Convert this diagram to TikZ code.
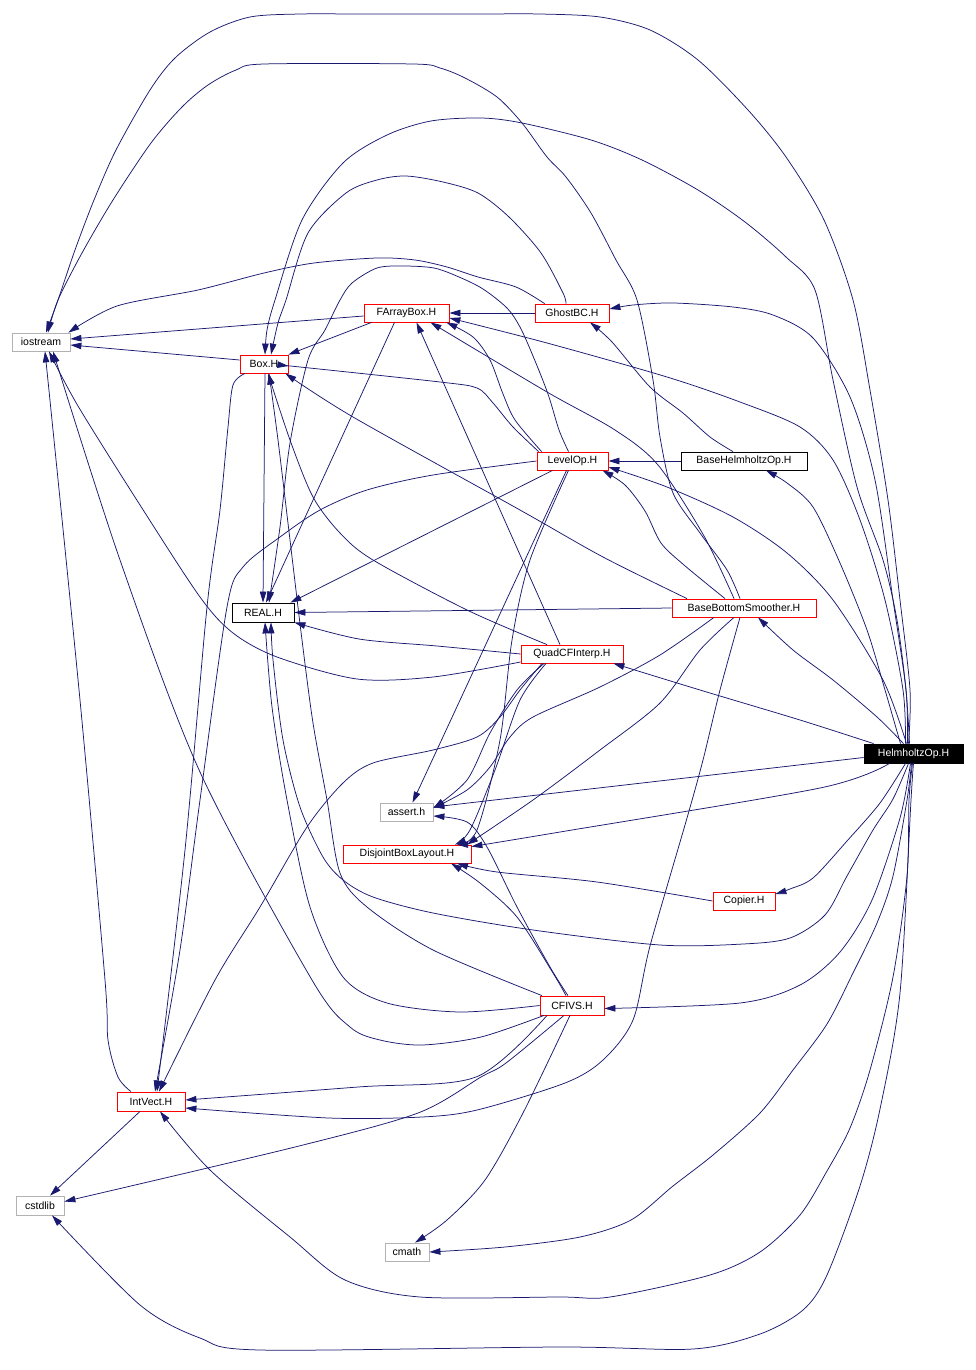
\documentclass[tikz,border=0pt]{standalone}
\usepackage{fontspec}
\setmainfont{Liberation Sans}
\usetikzlibrary{arrows.meta}
\definecolor{edgeblue}{HTML}{191970}
\begin{document}
\begin{tikzpicture}[x=1pt,y=-1pt,
  box/.style={rectangle, draw, inner sep=0pt, minimum height=18pt, line width=0.8pt, font=\fontsize{10.5}{12}\selectfont},
  graynode/.style={box, draw=black!30},
  rednode/.style={box, draw=red},
  blacknode/.style={box, draw=black},
  rootnode/.style={box, draw=black, fill=black, text=white},
  e/.style={draw=edgeblue, line width=0.75pt, -{Triangle[length=11pt,width=6.5pt]}},
  sm/.style={smooth, tension=0.5}
]
\useasboundingbox (0,0) rectangle (976,1370);
\fill[white] (0,0) rectangle (976,1370);

% nodes
\node[graynode, minimum width=58pt] (ios) at (41,342) {iostream};
\node[rednode, minimum width=48pt] (box) at (264,364) {Box.H};
\node[rednode, minimum width=85pt] (fab) at (406.5,313) {FArrayBox.H};
\node[rednode, minimum width=74pt] (gbc) at (572,313) {GhostBC.H};
\node[rednode, minimum width=71pt] (lop) at (572.5,461) {LevelOp.H};
\node[blacknode, minimum width=126pt] (bho) at (744,461) {BaseHelmholtzOp.H};
\node[blacknode, minimum width=62pt, minimum height=19pt] (real) at (263,612.5) {REAL.H};
\node[rednode, minimum width=144pt] (bbs) at (744,608) {BaseBottomSmoother.H};
\node[rednode, minimum width=102pt] (qcf) at (572,654) {QuadCFInterp.H};
\node[rootnode, minimum width=99pt, minimum height=19pt] (ho) at (913.5,753.5) {HelmholtzOp.H};
\node[graynode, minimum width=53pt] (ast) at (406.5,812) {assert.h};
\node[rednode, minimum width=128pt] (dbl) at (407,854) {DisjointBoxLayout.H};
\node[rednode, minimum width=62pt] (cop) at (744,901) {Copier.H};
\node[rednode, minimum width=64pt, minimum height=19pt] (cfivs) at (572,1005.5) {CFIVS.H};
\node[rednode, minimum width=68pt, minimum height=19pt] (ivt) at (151,1101.5) {IntVect.H};
\node[graynode, minimum width=48pt, minimum height=19pt] (csl) at (40,1205.5) {cstdlib};
\node[graynode, minimum width=44pt] (cmh) at (407,1252) {cmath};

% HelmholtzOp.H edges
\draw[e] plot[sm] coordinates {([xshift=-5pt]ho.north) (910,690) (900,600) (888,500) (870,390) (853,300) (824,220) (786,157) (748,110) (698,60) (650,30) (600,17) (540,14) (480,14) (420,14) (360,14) (300,14) (250,17) (210,32) (175,58) (150,90) (116,150) (94,200) (75,250) (58,300) ([xshift=5pt]ios.north)};
\draw[e] plot[sm] coordinates {([xshift=-6pt]ho.north) (906,690) (893,600) (875,480) (850,397) (813,338) (773,315) (733,307) (673,303) (633,305) ([yshift=4pt]gbc.east)};
\draw[e] plot[sm] coordinates {([xshift=-8pt]ho.north) (903,690) (885,600) (860,520) (833,460) (800,427) (740,402) (667,377) (547,343) ([yshift=-5pt]fab.east)};
\draw[e] plot[sm] coordinates {([xshift=-4pt]ho.north) (906,690) (897,620) (883,560) (857,487) (833,380) (815,290) (786,257) (745,222) (698,190) (642,160) (591,140) (522,123) (481,118) (431,121) (387,135) (343,163) (302,220) (275,300) (267,330) ([xshift=1pt]box.north)};
\draw[e] plot[sm] coordinates {([xshift=-7pt]ho.north) (883,680) (833,600) (787,553) (733,517) (667,487) ([yshift=-6pt]lop.east)};
\draw[e] plot[sm] coordinates {([xshift=-13pt]ho.north) (885,690) (867,630) (840,563) (813,507) (787,483) ([xshift=22pt]bho.south)};
\draw[e] plot[sm] coordinates {([xshift=-10pt]ho.north) (877,717) (833,680) (793,650) ([xshift=14pt]bbs.south)};
\draw[e] plot[sm] coordinates {([xshift=10pt]ho.north west) (800,720) (700,690) ([xshift=-10pt]qcf.south east)};
\draw[e] ([yshift=-4pt]ho.west) -- ([yshift=5pt]ast.east);
\draw[e] plot[sm] coordinates {([xshift=-24pt]ho.south) (820,788) (560,832) ([yshift=-2pt]dbl.north east)};
\draw[e] plot[sm] coordinates {([xshift=-8pt]ho.south) (880,803) (847,841) (813,878) (790,889) ([yshift=7pt]cop.east)};
\draw[e] plot[sm] coordinates {([xshift=-5pt]ho.south) (893,799) (873,830) (847,876) (825,915) (790,938) (743,944) (660,945) (533,930) (433,913) (373,897) (343,880) (323,857) (300,807) (283,740) (273,660) ([xshift=8pt]real.south)};
\draw[e] plot[sm] coordinates {([xshift=-3pt]ho.south) (900,818) (872,900) (840,952) (800,985) (740,1003) ([yshift=-3pt]cfivs.east)};
\draw[e] plot[sm] coordinates {([xshift=-2pt]ho.south) (907,800) (893,876) (877,923) (853,973) (827,1024) (793,1070) (760,1113) (713,1155) (673,1186) (631,1220) (580,1237) (505,1247) (cmh.east)};
\draw[e] plot[sm] coordinates {([xshift=-1pt]ho.south) (909,800) (907,876) (893,977) (870,1070) (850,1128) (827,1171) (800,1215) (760,1252) (710,1275) (610,1297) (560,1297) (420,1297) (345,1280) (290,1237) (210,1170) ([xshift=9pt]ivt.south)};
\draw[e] plot[sm] coordinates {(ho.south) (911,800) (900,993) (880,1109) (860,1186) (827,1275) (803,1310) (760,1334) (693,1349) (560,1347) (260,1350) (200,1338) (140,1305) ([xshift=12pt]csl.south)};

% GhostBC.H
\draw[e] (gbc.west) -- (fab.east);
\draw[e] plot[sm] coordinates {([xshift=10pt]gbc.north west) (516,287) (478,277) (447,267) (415,260) (377,258) (314,263) (264,273) (198,290) (117,306) ([xshift=-2pt]ios.north east)};
\draw[e] plot[sm] coordinates {([xshift=-6pt]gbc.north) (563,293) (541,253) (509,217) (478,193) (443,182) (406,176) (377,180) (346,193) (308,233) (286,300) (278,323) ([xshift=7pt]box.north)};

% BaseHelmholtzOp.H
\draw[e] plot[sm] coordinates {([xshift=-11pt]bho.north) (710,437) (683,413) (650,387) (612,342) ([xshift=18pt]gbc.south)};
\draw[e] (bho.west) -- (lop.east);

% LevelOp.H
\draw[e] plot[sm] coordinates {([xshift=2pt]lop.north west) (513,427) (493,403) (477,388) (440,382) (300,367) ([yshift=-2pt]box.east)};
\draw[e] plot[sm] coordinates {([xshift=5pt]lop.north west) (515,420) (503,394) (490,360) (473,337) ([xshift=-3pt]fab.south east)};
\draw[e] ([xshift=-20pt]lop.south) -- ([xshift=-4pt]real.north east);
\draw[e] plot[sm] coordinates {(lop.west) (433,475) (367,490) (320,510) (280,537) (243,567) (227,607) (200,800) (180,950) ([xshift=4pt]ivt.north)};
\draw[e] ([xshift=-6pt]lop.south) -- ([xshift=6pt]ast.north);
\draw[e] plot[sm] coordinates {([xshift=-4pt]lop.south) (530,560) (512,640) (500,740) (477,830) ([xshift=50pt]dbl.north)};
\draw[e] plot[sm] coordinates {([xshift=-4pt]lop.north) (559,430) (548,394) (533,356) (520,327) (507,308) (483,289) (459,277) (434,268) (403,266) (377,268) (352,283) (340,300) (325,330) (308,360) (290,443) (280,527) ([xshift=6pt]real.north)};

% QuadCFInterp.H
\draw[e] ([xshift=-12pt]qcf.north) -- ([xshift=10pt]fab.south);
\draw[e] plot[sm] coordinates {([xshift=-25pt]qcf.north) (467,610) (373,560) (340,533) (313,497) (290,440) ([xshift=4pt]box.south)};
\draw[e] plot[sm] coordinates {(qcf.west) (437,646) (359,639) (real.south east)};
\draw[e] plot[sm] coordinates {([yshift=-8pt]qcf.west) (433,677) (357,679) (277,657) (233,633) (200,597) (140,505) (78,406) ([xshift=8pt]ios.south)};
\draw[e] plot[sm] coordinates {([xshift=-30pt]qcf.south) (520,690) (500,717) (477,737) (433,750) (373,763) (343,783) (307,827) (260,907) (215,980) ([xshift=8pt]ivt.north)};
\draw[e] plot[sm] coordinates {([xshift=-28pt]qcf.south) (517,690) (490,733) (467,780) ([yshift=4pt]ast.east)};
\draw[e] plot[sm] coordinates {([xshift=-26pt]qcf.south) (520,700) (495,770) (470,830) ([xshift=48pt]dbl.north)};

% BaseBottomSmoother.H
\draw[e] (bbs.west) -- (real.east);
\draw[e] plot[sm] coordinates {([xshift=-57pt]bbs.north) (603,557) (520,510) (353,417) ([xshift=-3pt]box.south east)};
\draw[e] plot[sm] coordinates {([xshift=-10pt]bbs.north) (704,536) (658,465) (615,430) (547,392) ([xshift=24pt]fab.south)};
\draw[e] plot[sm] coordinates {([xshift=-4pt]bbs.north) (727,570) (700,533) (673,493) (660,437) (653,380) (637,300) (616,260) (591,213) (566,177) (547,157) (522,123) (497,97) (465,78) (440,68) (413,64) (264,64) (236,70) (208,85) (182,107) (151,143) (113,200) (82,253) (58,300) ([xshift=7pt]ios.north)};
\draw[e] plot[sm] coordinates {([xshift=-4pt]bbs.south) (720,690) (703,760) (687,818) (650,946) (633,1020) (603,1060) (565,1083) (477,1110) (422,1117) (329,1118) ([yshift=-6.5pt]ivt.east)};
\draw[e] plot[sm] coordinates {([xshift=-30pt]bbs.south) (660,655) (600,687) (533,717) (510,737) (490,767) (467,790) ([yshift=4pt]ast.east)};
\draw[e] plot[sm] coordinates {([xshift=-10pt]bbs.south) (700,650) (660,703) (600,750) (533,800) ([xshift=60pt]dbl.north)};
\draw[e] plot[sm] coordinates {([xshift=-19pt]bbs.north) (684,565) (661,543) (645,511) (625,485) ([xshift=-6pt]lop.south east)};

% Copier.H
\draw[e] plot[sm] coordinates {(cop.west) (597,882) (497,872) ([xshift=50pt]dbl.south)};

% CFIVS.H
\draw[e] plot[sm] coordinates {([xshift=-30pt]cfivs.north) (433,950) (367,907) (340,873) (327,800) (313,723) (302,640) (290,540) (278,440) ([xshift=5pt]box.south)};
\draw[e] plot[sm] coordinates {(cfivs.west) (460,1012) (387,1003) (343,977) (310,907) (287,800) (272,707) ([xshift=2pt]real.south)};
\draw[e] plot[sm] coordinates {([xshift=-28pt]cfivs.south) (481,1037) (422,1045) (380,1040) (350,1027) (312,980) (200,772) (120,560) ([xshift=12pt]ios.south)};
\draw[e] plot[sm] coordinates {([xshift=-25pt]cfivs.south) (476,1077) (358,1087) ([yshift=1.5pt]ivt.east)};
\draw[e] plot[sm] coordinates {([xshift=-6pt]cfivs.north) (553,973) (517,917) (480,883) ([xshift=44pt]dbl.south)};
\draw[e] plot[sm] coordinates {([xshift=-4pt]cfivs.north) (550,967) (517,907) (487,847) (467,822) ([yshift=-4pt]ast.east)};
\draw[e] plot[sm] coordinates {([xshift=-8pt]cfivs.south) (506,1063) (481,1077) (418,1113) (295,1147) ([yshift=4pt]csl.east)};
\draw[e] plot[sm] coordinates {([xshift=-2pt]cfivs.south) (523,1113) (485,1180) (447,1220) ([xshift=8pt]cmh.north)};

% IntVect.H
\draw[e] plot[sm] coordinates {([xshift=-20pt]ivt.north) (118,1077) (108,1040) (105,980) (80,700) ([xshift=4pt]ios.south)};
\draw[e] ([xshift=-11pt]ivt.south) -- ([xshift=10pt]csl.north);

% Box.H
\draw[e] ([yshift=4pt]box.west) -- ([yshift=-3pt]ios.east);
\draw[e] plot[sm] coordinates {([xshift=-19pt]box.south) (233,385) (228,427) (220,510) (207,607) (185,850) ([xshift=6pt]ivt.north)};
\draw[e] ([xshift=1pt]box.south) -- (real.north);

% FArrayBox.H
\draw[e] ([yshift=-3pt]fab.west) -- ([yshift=3pt]ios.east);
\draw[e] ([xshift=8pt]fab.south west) -- (box.north east);
\draw[e] ([xshift=-12pt]fab.south) -- ([xshift=3pt]real.north);
\end{tikzpicture}
\end{document}
